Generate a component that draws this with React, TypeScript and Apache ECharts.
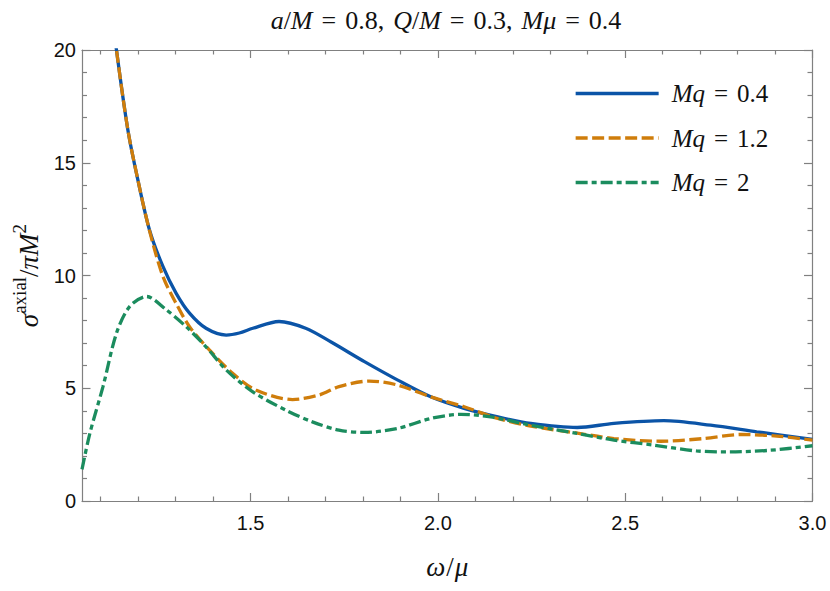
import React, { useEffect, useRef } from "react";
import * as echarts from "echarts";

// ---- axis ticks ----
const xMajorTicks = [1.5, 2.0, 2.5, 3.0];
const xMinorTicks = [1.1, 1.2, 1.3, 1.4, 1.6, 1.7, 1.8, 1.9, 2.1, 2.2, 2.3, 2.4, 2.6, 2.7, 2.8, 2.9];
const xRange = [1.05, 3.0];
const yRange = [0, 20];

// ---- series: Mq = 0.4 ----
const omegaMq04 = [1.1, 1.12, 1.142, 1.172, 1.199, 1.23, 1.266, 1.301, 1.337, 1.381, 1.435, 1.47, 1.506, 1.576, 1.647, 1.715, 1.804, 1.893, 1.981, 2.07, 2.16, 2.248, 2.372, 2.47, 2.603, 2.728, 2.851, 3.0];
const sigmaMq04 = [26.5, 23.0, 20.0, 16.5, 14.25, 12.03, 10.4, 9.22, 8.33, 7.66, 7.36, 7.45, 7.66, 7.96, 7.66, 7.05, 6.18, 5.36, 4.62, 4.11, 3.73, 3.44, 3.26, 3.44, 3.56, 3.36, 3.07, 2.73];

// ---- series: Mq = 1.2 ----
const omegaMq12 = [1.1, 1.12, 1.142, 1.172, 1.199, 1.23, 1.266, 1.301, 1.337, 1.39, 1.452, 1.514, 1.612, 1.683, 1.736, 1.817, 1.893, 1.981, 2.07, 2.16, 2.248, 2.376, 2.47, 2.594, 2.71, 2.809, 2.905, 3.0];
const sigmaMq12 = [26.5, 23.0, 20.0, 16.5, 14.25, 12.0, 9.96, 8.77, 7.73, 6.7, 5.66, 4.92, 4.5, 4.7, 5.07, 5.32, 5.14, 4.62, 4.18, 3.66, 3.32, 3.0, 2.77, 2.65, 2.77, 2.95, 2.88, 2.7];

// ---- series: Mq = 2 ----
const omegaMq2 = [1.05, 1.071, 1.106, 1.142, 1.177, 1.222, 1.275, 1.328, 1.381, 1.435, 1.506, 1.594, 1.665, 1.736, 1.804, 1.893, 1.981, 2.061, 2.141, 2.248, 2.372, 2.47, 2.576, 2.69, 2.78, 2.887, 3.0];
const sigmaMq2 = [1.4, 3.0, 5.07, 7.44, 8.62, 9.07, 8.48, 7.73, 6.84, 5.81, 4.84, 4.03, 3.51, 3.14, 3.04, 3.22, 3.66, 3.84, 3.73, 3.36, 3.0, 2.7, 2.48, 2.22, 2.18, 2.25, 2.45];

const seriesNames = ["Mq = 0.4", "Mq = 1.2", "Mq = 2"];
const seriesValues = ["0.4", "1.2", "2"];

const zip = (xs: number[], ys: number[]) => xs.map((x, i) => [x, ys[i]]);

const AXIS_COLOR = "#808080";
const SERIF = "Liberation Serif";
const SANS = "Liberation Sans";
const TXT = "#111111";

const it = (size: number, extra: any = {}) => ({
  fontFamily: SERIF, fontStyle: "italic", fontWeight: "normal", fontSize: size, color: TXT, ...extra,
});
const rm = (size: number, extra: any = {}) => ({
  fontFamily: SERIF, fontStyle: "normal", fontWeight: "normal", fontSize: size, color: TXT, ...extra,
});

export default function App() {
  const ref = useRef<HTMLDivElement>(null);

  useEffect(() => {
    if (!ref.current) return;
    const chart = echarts.init(ref.current, undefined, { renderer: "svg" });

    const baseX = {
      type: "value" as const,
      min: xRange[0],
      max: xRange[1],
      splitLine: { show: false },
    };
    const baseY = {
      type: "value" as const,
      min: yRange[0],
      max: yRange[1],
      interval: 5,
      splitLine: { show: false },
    };
    const lineC = { show: true, lineStyle: { color: AXIS_COLOR, width: 1.2 } };
    const tickStyle = { color: AXIS_COLOR, width: 1.2 };

    const option: any = {
      animation: false,
      backgroundColor: "#ffffff",
      title: {
        text:
          "{i|a}{n|/}{i|M}{e|=}{n|0.8,}{g|}{i|Q}{n|/}{i|M}{e|=}{n|0.3,}{g|}{i|Mμ}{e|=}{n|0.4}",
        left: 441,
        top: 2,
        textAlign: "center",
        textStyle: {
          ...rm(26),
          rich: {
            i: it(26),
            n: rm(26),
            e: rm(26, { padding: [0, 9, 0, 9] }),
            g: { width: 9 },
          },
        },
      },
      legend: {
        orient: "vertical",
        left: 574,
        top: 81,
        padding: 0,
        itemWidth: 83,
        itemHeight: 14,
        itemGap: 19.5,
        selectedMode: false,
        itemStyle: { opacity: 0 },
        lineStyle: { width: 3.3 },
        data: seriesNames,
        formatter: (name: string) => {
          const idx = seriesNames.indexOf(name);
          return `{p|}{i|Mq}{e|=}{n|${seriesValues[idx]}}`;
        },
        textStyle: {
          ...rm(25),
          rich: {
            p: { width: 8 },
            i: it(25, { lineHeight: 24 }),
            n: rm(25, { lineHeight: 24 }),
            e: rm(25, { lineHeight: 24, padding: [0, 9, 0, 9] }),
          },
        },
      },
      grid: {
        left: 82,
        right: 17.5,
        top: 50,
        bottom: 90,
        outerBoundsMode: "none",
        containLabel: false,
      },
      xAxis: [
        {
          ...baseX,
          position: "bottom",
          axisLine: lineC,
          axisTick: { show: true, inside: true, length: 8, customValues: xMajorTicks, lineStyle: tickStyle },
          axisLabel: {
            show: true,
            customValues: xMajorTicks,
            formatter: (v: number) => v.toFixed(1),
            margin: 12,
            color: TXT,
            fontFamily: SANS,
            fontSize: 20,
          },
          name: "{i|ω}{n|/}{i|μ}",
          nameLocation: "middle",
          nameGap: 52,
          nameTextStyle: {
            ...rm(27),
            rich: { i: it(27), n: rm(27, { padding: [0, 1, 0, 1] }) },
          },
        },
        {
          ...baseX,
          position: "bottom",
          axisLine: { show: false },
          axisTick: { show: true, inside: true, length: 4.5, customValues: xMinorTicks, lineStyle: tickStyle },
          axisLabel: { show: false },
        },
        {
          ...baseX,
          position: "top",
          axisLine: lineC,
          axisTick: { show: true, inside: true, length: 8, customValues: xMajorTicks, lineStyle: tickStyle },
          axisLabel: { show: false },
        },
        {
          ...baseX,
          position: "top",
          axisLine: { show: false },
          axisTick: { show: true, inside: true, length: 4.5, customValues: xMinorTicks, lineStyle: tickStyle },
          axisLabel: { show: false },
        },
      ],
      yAxis: [
        {
          ...baseY,
          position: "left",
          axisLine: lineC,
          axisTick: { show: true, inside: true, length: 8.5, lineStyle: tickStyle },
          minorTick: { show: true, splitNumber: 5, length: 5, lineStyle: tickStyle },
          axisLabel: { show: true, margin: 6, color: TXT, fontFamily: SANS, fontSize: 20 },
          name: "{i|σ}{s|axial}{n|/}{i|πM}{s|2}",
          nameLocation: "middle",
          nameRotate: 90,
          nameGap: 32,
          nameTextStyle: {
            ...rm(26),
            rich: {
              i: it(27, { lineHeight: 26, verticalAlign: "bottom" }),
              n: rm(27, { lineHeight: 26, verticalAlign: "bottom" }),
              s: rm(19, { lineHeight: 18, padding: [0, 0, 14, 0], verticalAlign: "bottom" }),
            },
          },
        },
        {
          ...baseY,
          position: "right",
          axisLine: lineC,
          axisTick: { show: true, inside: true, length: 8.5, lineStyle: tickStyle },
          minorTick: { show: true, splitNumber: 5, length: 5, lineStyle: tickStyle },
          axisLabel: { show: false },
        },
      ],
      series: [
        {
          name: seriesNames[0],
          type: "line",
          xAxisIndex: 0,
          yAxisIndex: 0,
          data: zip(omegaMq04, sigmaMq04),
          symbol: "none",
          smooth: 0.3,
          clip: true,
          color: "#0b54a7",
          lineStyle: { color: "#0b54a7", width: 3.3, type: "solid", cap: "butt" },
          z: 2,
        },
        {
          name: seriesNames[1],
          type: "line",
          xAxisIndex: 0,
          yAxisIndex: 0,
          data: zip(omegaMq12, sigmaMq12),
          symbol: "none",
          smooth: 0.3,
          clip: true,
          color: "#cf7d0b",
          lineStyle: { color: "#cf7d0b", width: 3.3, type: [12, 4.5], cap: "butt" },
          z: 3,
        },
        {
          name: seriesNames[2],
          type: "line",
          xAxisIndex: 0,
          yAxisIndex: 0,
          data: zip(omegaMq2, sigmaMq2),
          symbol: "none",
          smooth: 0.3,
          clip: true,
          color: "#1b8c5e",
          lineStyle: { color: "#1b8c5e", width: 3.3, type: [12, 4, 5, 4], cap: "butt" },
          z: 4,
        },
      ],
    };

    chart.setOption(option);
    return () => chart.dispose();
  }, []);

  return (
    <div
      ref={ref}
      style={{ position: "fixed", left: 0, top: 0, width: 830, height: 591, background: "#fff" }}
    />
  );
}
